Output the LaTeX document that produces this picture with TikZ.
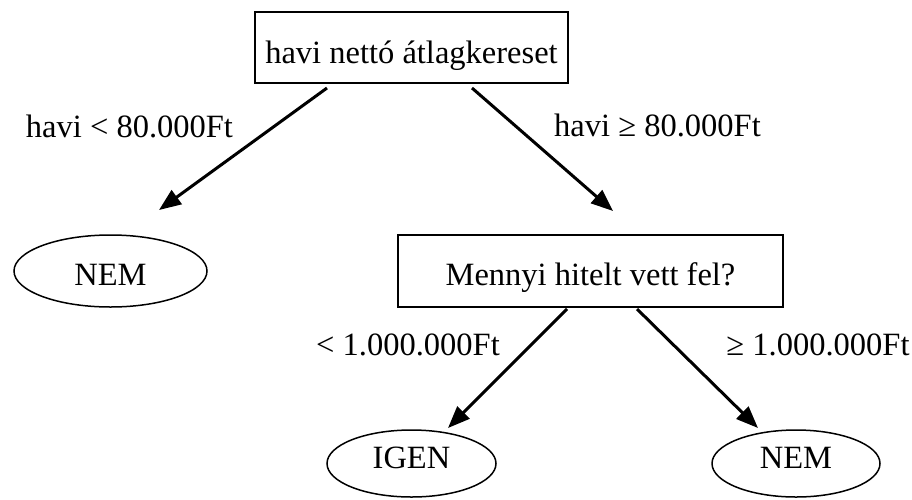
\documentclass[tikz,border=0pt]{standalone}
\usepackage{fontspec}
\setmainfont{Liberation Serif}
\usetikzlibrary{shapes.geometric,arrows.meta}
\begin{document}
\begin{tikzpicture}[x=1pt,y=-1pt,
  every node/.style={font=\fontsize{32.5}{38}\selectfont},
  question/.style={draw,line width=2pt,inner sep=0pt,text depth=0pt},
  leaf/.style={draw,ellipse,line width=1.5pt,inner sep=0pt,text depth=0pt},
  branch/.style={anchor=base,inner sep=0pt},
  arr/.style={line width=3pt,-{Triangle[length=22pt,width=17pt]}}]
\useasboundingbox (0,0) rectangle (912,499);
% decision boxes
\node[question,minimum width=313pt,minimum height=71pt,text height=31pt]
  (top) at (411.5,47.5) {havi nettó átlagkereset};
\node[question,minimum width=385pt,minimum height=72pt,text height=28pt]
  (hitel) at (590.5,271) {Mennyi hitelt vett fel?};
% outcome ellipses
\node[leaf,minimum width=193pt,minimum height=72pt,text height=28pt]
  (nemL) at (110.5,271) {NEM};
\node[leaf,minimum width=169pt,minimum height=67pt,text height=9pt]
  (igen) at (411.5,463.5) {IGEN};
\node[leaf,minimum width=168pt,minimum height=67pt,text height=9pt]
  (nemR) at (796,463.5) {NEM};
% arrow end points, kept slightly clear of the shapes
\coordinate (a1s) at (327,88);  \coordinate (a1e) at (159,210);
\coordinate (a2s) at (472,88);  \coordinate (a2e) at (613,211);
\coordinate (a3s) at (567,309); \coordinate (a3e) at (448,428);
\coordinate (a4s) at (637,309); \coordinate (a4e) at (758,428);
\draw[arr] (a1s) -- (a1e);
\draw[arr] (a2s) -- (a2e);
\draw[arr] (a3s) -- (a3e);
\draw[arr] (a4s) -- (a4e);
% branch labels
\node[branch] (l1) at (129.5,137) {havi < 80.000Ft};
\node[branch] (l2) at (657.5,136) {havi ≥ 80.000Ft};
\node[branch] (l3) at (408,355) {< 1.000.000Ft};
\node[branch] (l4) at (818,355) {≥ 1.000.000Ft};
\end{tikzpicture}
\end{document}
